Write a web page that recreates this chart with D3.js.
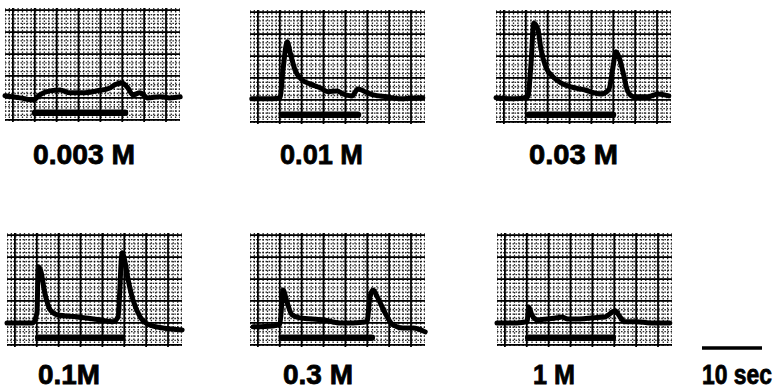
<!DOCTYPE html>
<html>
<head>
<meta charset="utf-8">
<script src="https://cdn.jsdelivr.net/npm/d3@7/dist/d3.min.js"></script>
<style>
body{margin:0;background:#fff}
text{font-family:"Liberation Sans",Arial,sans-serif;font-weight:bold}
</style>
</head>
<body>
<div id="chart"></div>
<script>
// concentrations, one panel each
const concLabels = ["0.003 M", "0.01 M", "0.03 M", "0.1M", "0.3 M", "1 M"];

// traces: time (sec) / response (grid divisions above baseline)
const t003 = [0, 2.5, 4.7, 5.8, 7.5, 9.2, 10.8, 13, 15.3, 17.5, 18.3, 19.5, 20.5, 21.3, 22.5, 23.8, 25.8, 27.5, 29.2];
const a003 = [0.1, 0, -0.1, 0.14, 0.32, 0.36, 0.23, 0.23, 0.32, 0.45, 0.6, 0.68, 0.45, 0.14, 0.23, 0, 0.05, 0, 0.05];

const t01 = [0.3, 3.8, 5, 5.5, 6.2, 6.7, 7.5, 8.7, 10, 11.7, 13, 14.5, 15.5, 17, 18, 19.2, 20.5, 22.8, 25, 28.3, 28.8];
const a01 = [0.05, 0.05, 0.1, 1.37, 2.65, 2.15, 1.37, 0.91, 0.73, 0.55, 0.37, 0.41, 0.27, 0.18, 0.5, 0.37, 0.23, 0.14, 0.05, 0.1, 0.1];

const t03 = [0, 3, 5.3, 5.8, 6.3, 7, 7.5, 8.3, 9.5, 10.8, 12.5, 14.7, 17.5, 18.8, 19.5, 20, 20.5, 21.2, 22, 23, 25.3, 27, 28.8];
const a03 = [0.1, 0.05, 0.14, 1.5, 3.5, 3.2, 2.3, 1.5, 1.05, 0.78, 0.59, 0.46, 0.27, 0.46, 1.5, 2.2, 1.96, 1.23, 0.37, 0.14, 0.14, 0.27, 0.18];

const t1 = [0, 4.3, 5, 5.2, 5.6, 6.3, 7.2, 8.3, 11.7, 15.5, 17.7, 18.5, 19.2, 19.5, 20.2, 21, 22.2, 23.8, 26, 29.2];
const a1 = [0, 0, 0.46, 2.56, 2.4, 1.37, 0.59, 0.37, 0.27, 0.14, 0.05, 0.27, 3.2, 3.0, 1.96, 1.05, 0.27, -0.1, -0.23, -0.32];

const t3 = [0.5, 3.8, 5, 5.5, 6.2, 7, 8.3, 12.2, 15, 17.2, 19.5, 20, 20.5, 21.3, 22.5, 23.8, 25.5, 27.2, 29.2];
const a3 = [-0.18, -0.14, -0.05, 1.5, 0.91, 0.37, 0.23, 0.14, 0, 0, 0.05, 1.2, 1.5, 1.14, 0.46, -0.09, -0.23, -0.23, -0.41];

const t10 = [0, 3.3, 5, 5.3, 5.8, 6.7, 8.3, 10, 10.8, 11.8, 13.8, 16, 18, 19.7, 20.5, 21.3, 23.3, 25.5, 28.8];
const a10 = [0, 0, 0.05, 0.73, 0.37, 0.14, 0.18, 0.23, 0.27, 0.18, 0.18, 0.23, 0.27, 0.55, 0.27, 0.05, 0.05, 0, 0];

// application period (sec)
const stimOn = [5, 5.3, 5.5, 5.2, 5.3, 5.2];
const stimOff = [20, 18, 19.5, 19.2, 20.3, 19.3];

const scaleBarSec = 10;
const scaleBarLabel = "10 sec";

const times = [t003, t01, t03, t1, t3, t10];
const amps = [a003, a01, a03, a1, a3, a10];

// layout
const panelX = [5, 250, 496, 7, 250, 497];
const panelY = [8, 10, 10, 233, 233, 233];
const labelDx = [28, 30, 33, 31, 33, 36];
const labelW = [102, 83, 89, 62, 70, 42];
const W = 175, H = 114;
const row1Base = 164, row2Base = 384;

const xScale = d3.scaleLinear().domain([0, 29.17]).range([0, W]);
const yScale = d3.scaleLinear().domain([-1.1, 4.1]).range([H, 0]);
const paper = d3.scaleLinear().domain([0, 40]).range([0, W]);

const svg = d3.select("#chart").append("svg")
  .attr("width", 777).attr("height", 392);

svg.append("defs").append("clipPath").attr("id", "pclip")
  .append("rect").attr("width", W).attr("height", H);

const line = d3.line()
  .x(d => xScale(d[0]))
  .y(d => yScale(d[1]))
  .curve(d3.curveMonotoneX);

const minorX = d3.range(0, 40.01, 1);
const majorX = d3.range(1.8, 40, 5);
const minorY = d3.range(-1, 4.1, 0.2);
const majorY = d3.range(-1, 4.1, 1);

// squeeze a bold label to the narrow width of the original lettering
function label(parent, x, y, str, w) {
  const t = parent.append("text")
    .attr("font-size", 28)
    .attr("fill", "#000").attr("stroke", "#000").attr("stroke-width", 0.8)
    .text(str);
  const sx = w / t.node().getComputedTextLength();
  t.attr("transform", "translate(" + x + "," + y + ") scale(" + sx + ",1)");
}

concLabels.forEach((lab, i) => {
  const g = svg.append("g").attr("transform", "translate(" + panelX[i] + "," + panelY[i] + ")");
  const grid = g.append("g").attr("clip-path", "url(#pclip)");

  grid.selectAll(".mx").data(minorX).enter().append("line")
    .attr("x1", d => paper(d)).attr("x2", d => paper(d))
    .attr("y1", 0).attr("y2", H)
    .attr("stroke", "#000").attr("stroke-width", 1.3)
    .attr("stroke-dasharray", "1.5,1.6").attr("opacity", 0.85);
  grid.selectAll(".my").data(minorY).enter().append("line")
    .attr("y1", d => yScale(d)).attr("y2", d => yScale(d))
    .attr("x1", 0).attr("x2", W)
    .attr("stroke", "#000").attr("stroke-width", 1.3)
    .attr("stroke-dasharray", "1.5,1.6").attr("opacity", 0.85);
  grid.selectAll(".Mx").data(majorX).enter().append("line")
    .attr("x1", d => paper(d)).attr("x2", d => paper(d))
    .attr("y1", 0).attr("y2", H)
    .attr("stroke", "#000").attr("stroke-width", 1.8);
  grid.selectAll(".My").data(majorY).enter().append("line")
    .attr("y1", d => yScale(d)).attr("y2", d => yScale(d))
    .attr("x1", 0).attr("x2", W)
    .attr("stroke", "#000").attr("stroke-width", 1.8);

  // stimulus bar
  g.append("line")
    .attr("x1", xScale(stimOn[i])).attr("x2", xScale(stimOff[i]))
    .attr("y1", yScale(-0.68)).attr("y2", yScale(-0.68))
    .attr("stroke", "#000").attr("stroke-width", 6.5).attr("stroke-linecap", "round");

  const pts = times[i].map((t, j) => [t, amps[i][j]]);
  g.append("path").datum(pts)
    .attr("d", line)
    .attr("fill", "none").attr("stroke", "#000")
    .attr("stroke-width", 5).attr("stroke-linejoin", "round").attr("stroke-linecap", "round");

  label(g, labelDx[i], (i < 3 ? row1Base : row2Base) - panelY[i], lab, labelW[i]);
});

// time scale bar, drawn with the same time scale
const sb = svg.append("g").attr("transform", "translate(702,348)");
sb.append("line")
  .attr("x1", xScale(0)).attr("x2", xScale(scaleBarSec))
  .attr("stroke", "#000").attr("stroke-width", 3.5);
label(sb, 0, row2Base - 348, scaleBarLabel, 70);
</script>
</body>
</html>
